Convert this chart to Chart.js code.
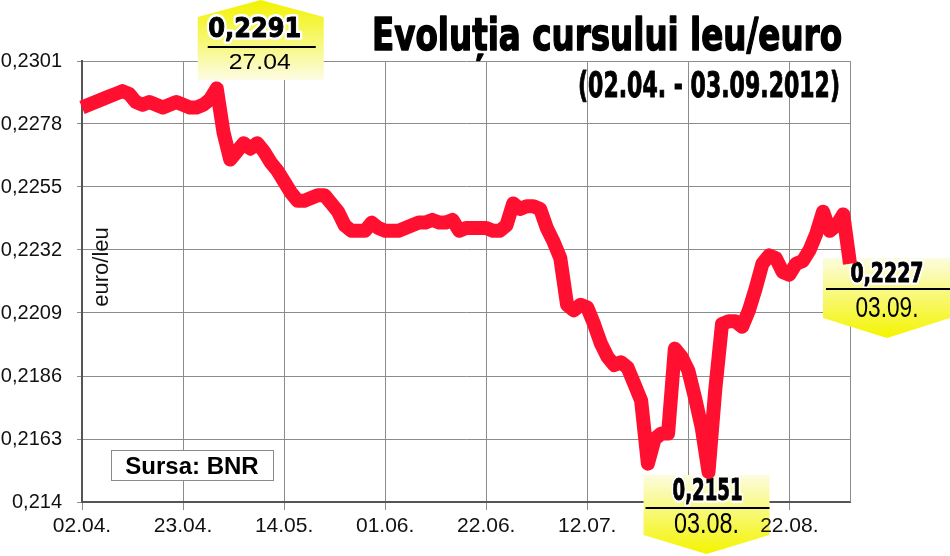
<!DOCTYPE html>
<html>
<head>
<meta charset="utf-8">
<script src="https://cdn.jsdelivr.net/npm/chart.js@4.4.0/dist/chart.umd.min.js"></script>
<style>
  html, body { margin: 0; padding: 0; background: #fff; }
  #wrap { width: 950px; height: 556px; position: relative; }
</style>
</head>
<body>
<div id="wrap"><canvas id="chart" width="950" height="556"></canvas></div>
<script>
// euro/leu, zilnic 02.04. - 03.09.2012
const values = [
  0.2284, 0.2285, 0.2286, 0.2287, 0.2288, 0.2289, 0.2290, 0.2289, 0.2286, 0.2285,
  0.2286, 0.2285, 0.2284, 0.2285, 0.2286, 0.2285, 0.2284, 0.2284, 0.2285, 0.2287,
  0.2291, 0.2275, 0.2265, 0.2268, 0.2271, 0.2269, 0.2271, 0.2268, 0.2264, 0.2261,
  0.2257, 0.2253, 0.2250, 0.2250, 0.2251, 0.2252, 0.2252, 0.2249, 0.2246, 0.2241,
  0.2239, 0.2239, 0.2239, 0.2242, 0.2240, 0.2239, 0.2239, 0.2239, 0.2240, 0.2241,
  0.2242, 0.2242, 0.2243, 0.2242, 0.2242, 0.2243, 0.2239, 0.2240, 0.2240, 0.2240,
  0.2240, 0.2239, 0.2239, 0.2241, 0.2249, 0.2247, 0.2248, 0.2248, 0.2247, 0.2240,
  0.2235, 0.2229, 0.2212, 0.2210, 0.2212, 0.2211, 0.2205, 0.2198, 0.2193, 0.2190,
  0.2191, 0.2189, 0.2183, 0.2177, 0.2154, 0.2163, 0.2165, 0.2165, 0.2196, 0.2193,
  0.2188, 0.2178, 0.2167, 0.2151, 0.2181, 0.2205, 0.2206, 0.2206, 0.2204, 0.2210,
  0.2218, 0.2227, 0.2230, 0.2229, 0.2224, 0.2223, 0.2227, 0.2228, 0.2232, 0.2238,
  0.2246, 0.2239, 0.2241, 0.2245, 0.2227
];
const yTicks = [0.214, 0.2163, 0.2186, 0.2209, 0.2232, 0.2255, 0.2278, 0.2301];
const tickIdx = [0, 15, 30, 45, 60, 75, 90, 105];
const tickDates = ['02.04.', '23.04.', '14.05.', '01.06.', '22.06.', '12.07.', '', '22.08.'];
// max, min, ultima valoare
const calloutIdx = [20, 93, 114];
const calloutDates = ['27.04', '03.08.', '03.09.'];

const SANS = "'Liberation Sans', Arial, sans-serif";
const HEAVY = "'DejaVu Sans', sans-serif";
const fmt = v => String(v).replace('.', ',');

function fitText(ctx, text, cx, y, w, font, outline, bolder) {
  ctx.save();
  ctx.font = font;
  const m = ctx.measureText(text).width;
  ctx.translate(cx, y);
  ctx.scale(w / m, 1);
  ctx.textAlign = 'center';
  ctx.textBaseline = 'alphabetic';
  ctx.lineJoin = 'round';
  if (outline) {
    ctx.lineWidth = 6;
    ctx.strokeStyle = '#fff';
    ctx.strokeText(text, 0, 0);
  }
  ctx.fillStyle = '#000';
  ctx.fillText(text, 0, 0);
  if (bolder) {
    ctx.lineWidth = bolder;
    ctx.strokeStyle = '#000';
    ctx.strokeText(text, 0, 0);
  }
  ctx.restore();
}

function shape(ctx, pts, y0, y1, c0, c1) {
  const g = ctx.createLinearGradient(0, y0, 0, y1);
  g.addColorStop(0, c0);
  g.addColorStop(1, c1);
  ctx.beginPath();
  pts.forEach((p, i) => i ? ctx.lineTo(p[0], p[1]) : ctx.moveTo(p[0], p[1]));
  ctx.closePath();
  ctx.fillStyle = g;
  ctx.fill();
}

function rule(ctx, x0, x1, y) {
  ctx.beginPath();
  ctx.moveTo(x0, y);
  ctx.lineTo(x1, y);
  ctx.lineWidth = 2;
  ctx.strokeStyle = '#000';
  ctx.stroke();
}

const overlay = {
  id: 'overlay',
  beforeDraw(chart) {
    const ctx = chart.ctx;
    ctx.save();
    ctx.fillStyle = '#fff';
    ctx.fillRect(0, 0, chart.width, chart.height);
    ctx.restore();
  },
  beforeDatasetsDraw(chart) {
    const ctx = chart.ctx, a = chart.chartArea;
    const xs = chart.scales.x;
    ctx.save();
    // right border of the plot
    ctx.beginPath();
    ctx.moveTo(a.right + 0.5, a.top);
    ctx.lineTo(a.right + 0.5, a.bottom);
    ctx.strokeStyle = '#8c8c8c';
    ctx.lineWidth = 1;
    ctx.stroke();

    // euro/leu
    ctx.save();
    ctx.translate(108, 267);
    ctx.rotate(-Math.PI / 2);
    ctx.font = '22px ' + SANS;
    ctx.textAlign = 'center';
    ctx.fillStyle = '#111';
    ctx.fillText('euro/leu', 0, 0);
    ctx.restore();

    // Sursa: BNR
    ctx.fillStyle = '#fff';
    ctx.fillRect(111, 450, 162, 30);
    ctx.strokeStyle = '#8a8a8a';
    ctx.lineWidth = 1;
    ctx.strokeRect(111.5, 450.5, 162, 30);
    ctx.font = 'bold 24px ' + SANS;
    ctx.textAlign = 'center';
    ctx.fillStyle = '#000';
    ctx.fillText('Sursa: BNR', 192, 474);

    // maximum
    let cx = xs.getPixelForValue(calloutIdx[0]) + 44;
    shape(ctx, [[cx - 63, 17], [cx, 0], [cx + 63, 17], [cx + 63, 80], [cx - 63, 80]], 0, 80, '#f2f200', '#fcfce4');
    fitText(ctx, fmt(values[calloutIdx[0]]), cx - 6, 37, 93, 'bold 27px ' + HEAVY, true, 1);
    rule(ctx, cx - 53, cx + 55, 47);
    fitText(ctx, calloutDates[0], cx - 1, 69, 62, '22px ' + SANS);

    // minimum
    cx = xs.getPixelForValue(calloutIdx[1]) - 2;
    shape(ctx, [[cx - 63, 475], [cx + 63, 475], [cx + 63, 535], [cx, 554], [cx - 63, 535]], 475, 554, '#fcfce0', '#f4f400');
    fitText(ctx, fmt(values[calloutIdx[1]]), cx + 1, 500, 70, 'bold 30px ' + HEAVY, true, 1);
    rule(ctx, cx - 61, cx + 63, 508);
    fitText(ctx, calloutDates[1], cx, 533, 65, '29px ' + SANS);

    // ultima valoare
    cx = xs.getPixelForValue(calloutIdx[2]) + 37;
    shape(ctx, [[cx - 64, 258], [950, 258], [950, 318], [cx, 338], [cx - 64, 318]], 258, 338, '#fcfce0', '#f4f400');
    fitText(ctx, fmt(values[calloutIdx[2]]), cx, 282, 73, 'bold 27px ' + HEAVY, true, 1);
    rule(ctx, cx - 61, 950, 289);
    fitText(ctx, calloutDates[2], cx, 317, 63, '29px ' + SANS);
    ctx.restore();
  },
  afterDraw(chart) {
    const ctx = chart.ctx;
    fitText(ctx, 'Evoluția cursului leu/euro', 607, 50, 470, 'bold 44px ' + HEAVY, false, 1.5);
    fitText(ctx, '(02.04. - 03.09.2012)', 709, 97, 262, 'bold 35px ' + HEAVY, false, 1);
  }
};

new Chart(document.getElementById('chart'), {
  type: 'line',
  data: {
    labels: values.map((v, i) => i),
    datasets: [{
      data: values,
      borderColor: '#ff1030',
      borderWidth: 14,
      borderJoinStyle: 'round',
      borderCapStyle: 'butt',
      pointRadius: 0,
      tension: 0,
      fill: false
    }]
  },
  options: {
    responsive: false,
    animation: false,
    devicePixelRatio: 1,
    layout: { padding: { top: 61, right: 100, left: 0, bottom: 0 } },
    plugins: { legend: { display: false }, tooltip: { enabled: false } },
    scales: {
      x: {
        type: 'category',
        offset: false,
        grid: { color: '#8c8c8c', tickLength: 8 },
        border: { color: '#555', width: 2 },
        afterBuildTicks: s => { s.ticks = tickIdx.map(i => ({ value: i })); },
        afterFit: s => { s.height = 54; },
        ticks: {
          z: 1,
          autoSkip: false,
          maxRotation: 0,
          padding: 4,
          color: '#111',
          font: { family: SANS, size: 21 },
          callback: v => tickDates[tickIdx.indexOf(v)]
        }
      },
      y: {
        min: 0.214,
        max: 0.2301,
        grid: { color: '#8c8c8c', tickLength: 5 },
        border: { color: '#555', width: 2 },
        afterBuildTicks: s => { s.ticks = yTicks.map(v => ({ value: v })); },
        afterFit: s => { s.width = 82; },
        ticks: {
          padding: 15,
          color: '#111',
          font: { family: SANS, size: 20 },
          callback: v => fmt(v)
        }
      }
    }
  },
  plugins: [overlay]
});
</script>
</body>
</html>
